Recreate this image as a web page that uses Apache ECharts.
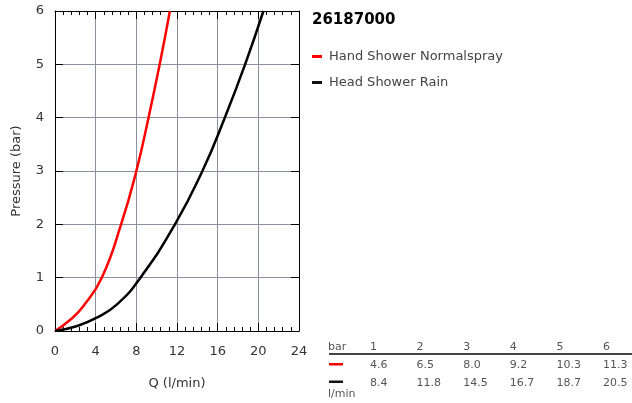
<!DOCTYPE html>
<html>
<head>
<meta charset="utf-8">
<script src="https://cdn.jsdelivr.net/npm/echarts@6/dist/echarts.min.js"></script>
<style>html,body{margin:0;padding:0;background:#fff}#c{width:632px;height:403px}</style>
</head>
<body>
<div id="c"></div>
<script>
var title = '26187000';
var seriesNames = ['Hand Shower Normalspray', 'Head Shower Rain'];
// curve points (flow l/min, pressure bar)
var handQ = [0, 1.5, 2.8, 4.6, 6.5, 8.0, 9.2, 10.3, 11.3];
var handP = [0, 0.21, 0.47, 1, 2, 3, 4, 5, 6];
var headQ = [0, 2.1, 4.0, 6.1, 8.4, 11.8, 14.5, 16.7, 18.7, 20.5];
var headP = [0, 0.09, 0.24, 0.5, 1, 2, 3, 4, 5, 6];
// table
var tableBar = ['1', '2', '3', '4', '5', '6'];
var tableHand = ['4.6', '6.5', '8.0', '9.2', '10.3', '11.3'];
var tableHead = ['8.4', '11.8', '14.5', '16.7', '18.7', '20.5'];

var FONT = 'DejaVu Sans';
var chart = echarts.init(document.getElementById('c'));

function pts(q, p) { return q.map(function (v, i) { return [v, p[i]]; }); }

var gridColor = '#8a909c';
var graphics = [];
var txt = '#555';
graphics.push({ type: 'text', left: 328, top: 342, style: { text: 'bar', font: '11px ' + FONT, fill: txt } });
graphics.push({ type: 'rect', shape: { x: 329, y: 353, width: 303, height: 2 }, style: { fill: '#444' } });
graphics.push({ type: 'rect', shape: { x: 329, y: 363, width: 14, height: 2.5 }, style: { fill: '#ff0000' } });
graphics.push({ type: 'rect', shape: { x: 329, y: 380.5, width: 14, height: 2.5 }, style: { fill: '#111' } });
graphics.push({ type: 'text', left: 328, top: 389, style: { text: 'l/min', font: '11px ' + FONT, fill: txt } });
for (var i = 0; i < tableBar.length; i++) {
  var x = 370 + i * 46.6;
  graphics.push({ type: 'text', left: x, top: 342, style: { text: tableBar[i], font: '11px ' + FONT, fill: txt } });
  graphics.push({ type: 'text', left: x, top: 360, style: { text: tableHand[i], font: '11px ' + FONT, fill: txt } });
  graphics.push({ type: 'text', left: x, top: 378, style: { text: tableHead[i], font: '11px ' + FONT, fill: txt } });
}

var xBase = {
  type: 'value', min: 0, max: 24, interval: 4,
  axisLine: { show: true, onZero: false, lineStyle: { color: '#000', width: 1 } },
  axisTick: { show: true, inside: true, length: 8, lineStyle: { color: '#000' } },
  minorTick: { show: true, splitNumber: 5, length: 4, lineStyle: { color: '#000' } }
};
var yBase = {
  type: 'value', min: 0, max: 6, interval: 1,
  axisLine: { show: true, onZero: false, lineStyle: { color: '#000', width: 1 } },
  axisTick: { show: true, inside: true, length: 8, lineStyle: { color: '#000' } }
};

chart.setOption({
  animation: false,
  textStyle: { fontFamily: FONT },
  grid: { left: 55, top: 11, right: 333, bottom: 72 },
  title: { text: title, left: 307, top: 8, textStyle: { fontFamily: FONT, fontSize: 15, fontWeight: 'bold', color: '#000' } },
  legend: {
    orient: 'vertical', left: 307, top: 45, itemWidth: 10, itemHeight: 3, itemGap: 13,
    icon: 'rect',
    textStyle: { fontFamily: FONT, fontSize: 13, color: '#444', padding: [0, 0, 0, 2] },
    data: seriesNames
  },
  xAxis: [
    Object.assign({}, xBase, {
      position: 'bottom',
      name: 'Q (l/min)', nameLocation: 'middle', nameGap: 46,
      nameTextStyle: { fontFamily: FONT, fontSize: 13, color: '#333' },
      axisLabel: { margin: 14, fontFamily: FONT, fontSize: 13, color: '#333' },
      splitLine: { show: true, lineStyle: { color: gridColor, width: 1 } }
    }),
    Object.assign({}, xBase, { position: 'top', axisLabel: { show: false }, splitLine: { show: false } })
  ],
  yAxis: [
    Object.assign({}, yBase, {
      position: 'left',
      name: 'Pressure (bar)', nameLocation: 'middle', nameGap: 32, nameRotate: 90,
      nameTextStyle: { fontFamily: FONT, fontSize: 13, color: '#333' },
      axisLabel: { margin: 11, fontFamily: FONT, fontSize: 13, color: '#333' },
      splitLine: { show: true, lineStyle: { color: gridColor, width: 1 } }
    }),
    Object.assign({}, yBase, { position: 'right', axisLabel: { show: false }, splitLine: { show: false } })
  ],
  series: [
    { name: seriesNames[0], type: 'line', data: pts(handQ, handP), smooth: 0.5, showSymbol: false, symbol: 'none',
      lineStyle: { color: '#ff0000', width: 2.5 }, itemStyle: { color: '#ff0000' } },
    { name: seriesNames[1], type: 'line', data: pts(headQ, headP), smooth: 0.5, showSymbol: false, symbol: 'none',
      lineStyle: { color: '#000', width: 2.5 }, itemStyle: { color: '#111' } }
  ],
  graphic: graphics
});
</script>
</body>
</html>
